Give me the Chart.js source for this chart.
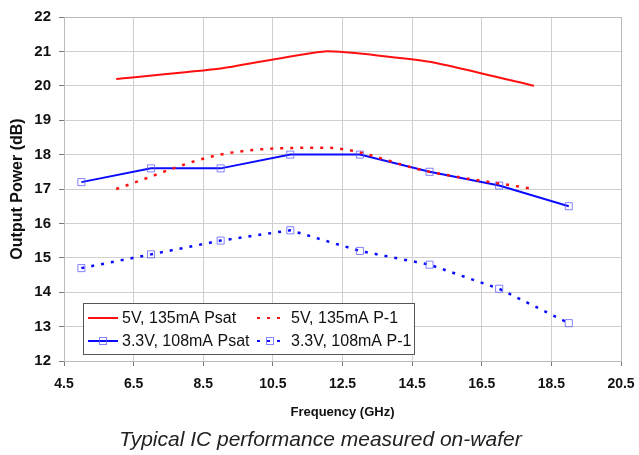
<!DOCTYPE html>
<html>
<head>
<meta charset="utf-8">
<script src="https://cdn.jsdelivr.net/npm/chart.js@4.4.0/dist/chart.umd.min.js"></script>
<style>
  html, body { margin: 0; padding: 0; background: #fff; }
  #wrap { width: 639px; height: 455px; }
</style>
</head>
<body>
<div id="wrap"><canvas id="myChart" width="639" height="455"></canvas></div>
<script>
// frequency points (GHz)
var freq5V = [6, 9, 12, 15, 18];
var freq33V = [5, 7, 9, 11, 13, 15, 17, 19];

// output power (dB)
var psat5V = [20.2, 20.5, 21.0, 20.7, 20.0];
var p1_5V = [17.0, 18.0, 18.2, 17.5, 17.0];
var psat33V = [17.2, 17.6, 17.6, 18.0, 18.0, 17.5, 17.1, 16.5];
var p1_33V = [14.7, 15.1, 15.5, 15.8, 15.2, 14.8, 14.1, 13.1];

var xTicks = [4.5, 6.5, 8.5, 10.5, 12.5, 14.5, 16.5, 18.5, 20.5];
var yTicks = [12, 13, 14, 15, 16, 17, 18, 19, 20, 21, 22];

var caption = 'Typical IC performance measured on-wafer';

function pts(xs, ys) {
    return xs.map(function (x, i) { return { x: x, y: ys[i] }; });
}

var markerColor = 'rgba(90, 90, 255, 0.75)';

// legend drawn inside the plot area, two columns like the original
var boxLegend = {
    id: 'boxLegend',
    afterDatasetsDraw: function (chart) {
        var ctx = chart.ctx, a = chart.chartArea;
        var bx = a.left + 19, by = a.bottom - 58, bw = 331, bh = 51;
        ctx.save();
        ctx.fillStyle = '#fff';
        ctx.fillRect(bx, by, bw, bh);
        ctx.strokeStyle = '#555';
        ctx.lineWidth = 1;
        ctx.strokeRect(bx + 0.5, by + 0.5, bw, bh);
        ctx.font = '16px "Liberation Sans", Arial, sans-serif';
        ctx.textBaseline = 'middle';
        chart.data.datasets.forEach(function (ds, i) {
            var col = i % 2, row = Math.floor(i / 2);
            var lx = col ? bx + 174 : bx + 5;
            var lw = col ? 26 : 30;
            var ly = by + 15 + row * 23;
            ctx.strokeStyle = ds.borderColor;
            ctx.lineWidth = 2;
            ctx.setLineDash(ds.borderDash || []);
            ctx.beginPath();
            ctx.moveTo(lx, ly);
            ctx.lineTo(lx + lw, ly);
            ctx.stroke();
            ctx.setLineDash([]);
            if (ds.pointRadius > 0) {
                ctx.strokeStyle = markerColor;
                ctx.lineWidth = 1;
                ctx.strokeRect(lx + lw / 2 - 3.5, ly - 3.5, 7, 7);
            }
            ctx.fillStyle = '#111';
            ctx.fillText(ds.label, lx + lw + (col ? 8 : 4), ly + 1);
        });
        ctx.restore();
    },
    beforeDatasetsDraw: function (chart) {
        var ctx = chart.ctx, a = chart.chartArea;
        ctx.save();
        ctx.strokeStyle = '#bbb';
        ctx.lineWidth = 1;
        ctx.strokeRect(a.left + 0.5, a.top + 0.5, a.right - a.left, a.bottom - a.top);
        ctx.restore();
    },
    afterDraw: function (chart) {
        var ctx = chart.ctx;
        ctx.save();
        ctx.fillStyle = '#222';
        ctx.font = 'italic 21px "Liberation Sans", Arial, sans-serif';
        ctx.textAlign = 'center';
        ctx.textBaseline = 'middle';
        ctx.fillText(caption, chart.width / 2 + 1, chart.height - 15);
        ctx.restore();
    }
};

var ctx = document.getElementById('myChart').getContext('2d');
var myChart = new Chart(ctx, {
    type: 'line',
    data: {
        datasets: [{
            label: '5V, 135mA Psat',
            data: pts(freq5V, psat5V),
            borderColor: '#ff1010',
            borderWidth: 2,
            pointRadius: 0,
            tension: 0.15},
        {
            label: '5V, 135mA P-1',
            data: pts(freq5V, p1_5V),
            borderColor: '#ff1010',
            borderWidth: 2.5,
            borderDash: [3, 7],
            pointRadius: 0,
            cubicInterpolationMode: 'monotone'},
        {
            label: '3.3V, 108mA Psat',
            data: pts(freq33V, psat33V),
            borderColor: '#0a0aff',
            borderWidth: 2,
            pointStyle: 'rect',
            pointRadius: 5,
            pointBorderWidth: 1,
            pointBorderColor: markerColor,
            pointBackgroundColor: 'rgba(255,255,255,0)',
            tension: 0},
        {
            label: '3.3V, 108mA P-1',
            data: pts(freq33V, p1_33V),
            borderColor: '#0a0aff',
            borderWidth: 2.5,
            borderDash: [3, 7],
            pointStyle: 'rect',
            pointRadius: 5,
            pointBorderWidth: 1,
            pointBorderColor: markerColor,
            pointBackgroundColor: 'rgba(255,255,255,0)',
            tension: 0}
        ]
    },
    options: {
        responsive: false,
        animation: false,
        layout: { padding: { left: 0, right: 18, top: 15, bottom: 31 } },
        plugins: {
            legend: { display: false },
            tooltip: { enabled: false },
            title: { display: false }
        },
        scales: {
            x: {
                type: 'linear',
                min: 4.5,
                max: 20.5,
                afterBuildTicks: function (s) { s.ticks = xTicks.map(function (v) { return { value: v }; }); },
                afterFit: function (s) { s.height = 63; s.paddingRight = 0; s.paddingLeft = 0; },
                ticks: {
                    color: '#111',
                    padding: 10,
                    autoSkip: false,
                    maxRotation: 0,
                    font: { family: '"Liberation Sans Narrow", "Liberation Sans", Arial, sans-serif', size: 14, weight: 'bold' },
                    callback: function (v) { return v.toFixed(1); }
                },
                grid: { color: '#cfcfcf', borderDash: [2, 3], tickLength: 5, tickColor: '#777', tickBorderDash: [] },
                border: { display: true, color: '#888' },
                title: {
                    display: true,
                    text: 'Frequency (GHz)',
                    color: '#111',
                    font: { family: '"Liberation Sans", Arial, sans-serif', size: 13, weight: 'bold' },
                    padding: { top: 8, bottom: 4 }
                }
            },
            y: {
                min: 12,
                max: 22,
                afterBuildTicks: function (s) { s.ticks = yTicks.map(function (v) { return { value: v }; }); },
                afterFit: function (s) { s.width = 64; },
                ticks: {
                    color: '#111',
                    padding: 8,
                    font: { family: '"Liberation Sans", Arial, sans-serif', size: 15, weight: 'bold' }
                },
                grid: { color: '#cfcfcf', borderDash: [2, 3], tickLength: 5, tickColor: '#777', tickBorderDash: [] },
                border: { display: true, color: '#888' },
                title: {
                    display: true,
                    text: 'Output Power (dB)',
                    color: '#111',
                    font: { family: '"Liberation Sans", Arial, sans-serif', size: 16, weight: 'bold' },
                    padding: { top: 8, bottom: 0 }
                }
            }
        }
    },
    plugins: [boxLegend]
});
</script>
</body>
</html>
